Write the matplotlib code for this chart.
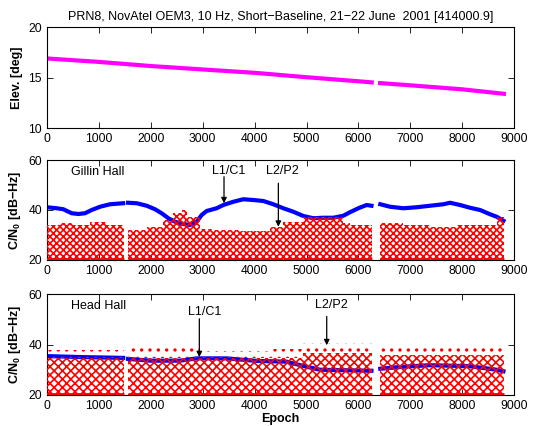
import numpy as np
import matplotlib
matplotlib.use("Agg")
import matplotlib.pyplot as plt

# fonts / look (matlab-ish)
plt.rcParams['font.family'] = ['Liberation Sans', 'DejaVu Sans']
plt.rcParams['mathtext.fontset'] = 'custom'
plt.rcParams['mathtext.rm'] = 'Liberation Sans:bold'
plt.rcParams['mathtext.default'] = 'rm'
plt.rcParams['hatch.linewidth'] = 1.2
plt.rcParams['hatch.color'] = 'red'

nan = np.nan

# elevation of PRN8 (gap where tracking was lost)
elev_epoch = [0, 1000, 2000, 3000, 4000, 5000, 6000, 6255, nan, 6415, 7000, 8000, 8800]
elev_deg = [16.89, 16.55, 16.14, 15.80, 15.47, 15.03, 14.63, 14.52, nan, 14.45, 14.23, 13.83, 13.39]

# Gillin Hall L1/C1 C/N0
gillin_l1_epoch = [0, 192, 320, 480, 609, 737, 865, 1026, 1218, 1470, nan, 1565, 1732, 1925, 2084,
                   2212, 2341, 2469, 2629, 2757, 2886, 2982, 3079, 3271, 3399, 3592, 3784, 3976,
                   4169, 4361, 4554, 4746, 4939, 5131, 5323, 5516, 5708, 5836, 5997, 6157, 6250,
                   nan, 6420, 6607, 6864, 7121, 7377, 7634, 7762, 7955, 8147, 8340, 8532, 8660, 8790]
gillin_l1 = [41.1, 40.7, 40.3, 38.7, 38.4, 38.7, 40.0, 41.3, 42.3, 42.7, nan, 42.9, 42.7, 41.7, 40.3,
             38.7, 36.7, 35.3, 34.4, 34.0, 35.3, 38.0, 39.6, 40.7, 42.0, 43.3, 44.3, 44.0,
             43.6, 42.3, 40.7, 39.3, 37.6, 36.7, 36.9, 36.9, 37.7, 39.1, 40.7, 42.0, 41.7,
             nan, 42.3, 41.3, 40.7, 41.1, 41.7, 42.3, 42.9, 42.0, 40.9, 40.0, 38.3, 37.3, 35.7]

# Gillin Hall L2/P2 C/N0 cloud: epoch spans and top of the cloud
gillin_l2_start = [0, 256, 512, 833, 1154, 1560, 1925, 2244, 2437, 2600, 2693, 2950, 3207, 3720,
                   4298, 4554, 4939, 5323, 5708, 5836, 6415, 6864, 7377, 7890, 8404, 8660]
gillin_l2_end = [256, 512, 833, 1154, 1480, 1925, 2244, 2437, 2600, 2693, 2950, 3207, 3720, 4298,
                 4554, 4939, 5323, 5708, 5836, 6255, 6864, 7377, 7890, 8404, 8660, 8800]
gillin_l2_top = [34.0, 34.7, 34.0, 35.3, 34.0, 32.0, 33.3, 36.0, 38.7, 40.0, 37.3, 32.4, 32.0, 31.5,
                 33.3, 35.3, 37.3, 37.3, 34.7, 34.0, 34.7, 34.0, 33.3, 34.0, 34.0, 37.3]

# Head Hall L1/C1 C/N0
head_l1_epoch = [0, 700, 1470, nan, 1565, 1989, 2565, 2886, 3463, 4040, 4618, 4939, 5259, 6250,
                 nan, 6420, 6864, 7377, 8147, 8660, 8790]
head_l1 = [35.4, 35.0, 34.7, nan, 34.3, 33.6, 33.6, 34.5, 34.5, 33.5, 33.2, 31.5, 30.0, 29.6,
           nan, 30.4, 31.2, 31.8, 31.4, 30.0, 29.4]

# Head Hall L2/P2 cloud: dense core and sparse outliers
head_l2_start = [0, 1560, 2950, 4298, 4939, 6415]
head_l2_end = [1480, 2950, 4298, 4939, 6255, 8800]
head_l2_core = [34.5, 34.5, 34.5, 34.7, 36.7, 36.0]
head_l2_top = [38.0, 38.5, 37.5, 38.1, 40.5, 39.5]

ticks_x = [0, 1000, 2000, 3000, 4000, 5000, 6000, 7000, 8000, 9000]


def style(ax, yticks):
    ax.set_xlim(0, 9000)
    ax.set_ylim(yticks[0], yticks[-1])
    ax.set_xticks(ticks_x)
    ax.set_yticks(yticks)
    ax.tick_params(direction='in', top=True, right=True, length=4, width=0.6, labelsize=8.7)
    for s in ax.spines.values():
        s.set_linewidth(0.8)


def cloud(ax, start, end, bottom, top, hatch):
    st = np.array(start)
    en = np.array(end)
    ax.bar(st, np.array(top) - np.array(bottom), width=en - st, bottom=bottom, align='edge',
           facecolor='none', edgecolor='red', linewidth=0, hatch=hatch, zorder=3)


def floor_row(ax, start, end):
    # the many readings sitting on the 20 dB-Hz floor
    ax.hlines([20.45] * len(start), start, end, color='red', lw=2, zorder=3)


fig = plt.figure(figsize=(5.34, 4.26), dpi=100)

ax1 = fig.add_axes([0.0875, 0.6995, 0.8757, 0.237])
ax1.plot(elev_epoch, elev_deg, color='#ff00ff', lw=3)
style(ax1, [10, 15, 20])
ax1.set_ylabel('Elev. [deg]', fontsize=9, fontweight='bold')
ax1.set_title('PRN8, NovAtel OEM3, 10 Hz, Short\u2212Baseline, 21\u221222 June  2001 [414000.9]',
              fontsize=9, pad=5)

ax2 = fig.add_axes([0.0875, 0.3897, 0.8757, 0.2347])
ax2.plot(gillin_l1_epoch, gillin_l1, color='blue', lw=3, zorder=2)
cloud(ax2, gillin_l2_start, gillin_l2_end, 20, gillin_l2_top, 'xxxxx')
floor_row(ax2, gillin_l2_start, gillin_l2_end)
style(ax2, [20, 40, 60])
ax2.set_ylabel('C/N$_0$ [dB\u2212Hz]', fontsize=9, fontweight='bold')
ax2.text(462, 55.3, 'Gillin Hall', fontsize=9, va='center')
ax2.text(3496, 55.6, 'L1/C1', fontsize=9, ha='center', va='center')
ax2.annotate('', xy=(3412, 42.7), xytext=(3412, 53.3),
             arrowprops=dict(arrowstyle='-|>', color='k', lw=0.9, mutation_scale=8,
                             shrinkA=0, shrinkB=0), zorder=5)
ax2.text(4544, 55.6, 'L2/P2', fontsize=9, ha='center', va='center')
ax2.annotate('', xy=(4458, 33.3), xytext=(4458, 50.7),
             arrowprops=dict(arrowstyle='-|>', color='k', lw=0.9, mutation_scale=8,
                             shrinkA=0, shrinkB=0), zorder=5)

ax3 = fig.add_axes([0.0875, 0.0728, 0.8757, 0.237])
ax3.plot(head_l1_epoch, head_l1, color='blue', lw=3, zorder=2)
cloud(ax3, head_l2_start, head_l2_end, 20, head_l2_core, 'xxxx')
cloud(ax3, head_l2_start, head_l2_end, head_l2_core, head_l2_top, '..')
floor_row(ax3, head_l2_start, head_l2_end)
style(ax3, [20, 40, 60])
ax3.set_ylabel('C/N$_0$ [dB\u2212Hz]', fontsize=9, fontweight='bold')
ax3.set_xlabel('Epoch', fontsize=9, fontweight='bold', labelpad=1)
ax3.text(462, 55.3, 'Head Hall', fontsize=9, va='center')
ax3.text(3031, 52.9, 'L1/C1', fontsize=9, ha='center', va='center')
ax3.annotate('', xy=(2937, 35.0), xytext=(2937, 50.2),
             arrowprops=dict(arrowstyle='-|>', color='k', lw=0.9, mutation_scale=8,
                             shrinkA=0, shrinkB=0), zorder=5)
ax3.text(5475, 55.6, 'L2/P2', fontsize=9, ha='center', va='center')
ax3.annotate('', xy=(5389, 39.7), xytext=(5389, 51.1),
             arrowprops=dict(arrowstyle='-|>', color='k', lw=0.9, mutation_scale=8,
                             shrinkA=0, shrinkB=0), zorder=5)

fig.savefig('out.png', dpi=100)
